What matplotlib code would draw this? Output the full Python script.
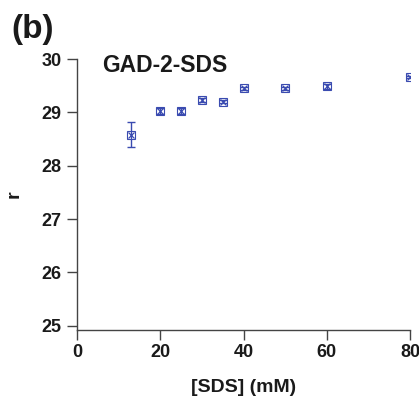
import matplotlib
matplotlib.use("Agg")
import matplotlib.pyplot as plt

sds_mM = [13, 20, 25, 30, 35, 40, 50, 60, 80]
r_values = [28.58, 29.03, 29.03, 29.23, 29.20, 29.45, 29.45, 29.49, 29.66]
r_err = [0.23, 0.06, 0.06, 0.03, 0.03, 0.03, 0.03, 0.05, 0.02]
x_ticks = [0, 20, 40, 60, 80]
y_ticks = [25, 26, 27, 28, 29, 30]

plt.rcParams['font.family'] = ['Liberation Sans', 'DejaVu Sans']
plt.rcParams['font.weight'] = 'bold'

fig = plt.figure(figsize=(4.19, 4.04), dpi=100)
ax = fig.add_axes([77/419, 1-330/404, 333/419, 271/404])

color = '#3a4bb0'
ax.errorbar(sds_mM, r_values, yerr=r_err, fmt='none', ecolor=color, elinewidth=1.0,
            capsize=3, capthick=1.0, zorder=3)
ax.plot(sds_mM, r_values, linestyle='none', marker='s', markersize=5.5,
        markerfacecolor='none', markeredgecolor=color, markeredgewidth=0.8, zorder=4)
ax.plot(sds_mM, r_values, linestyle='none', marker='x', markersize=5,
        markeredgecolor=color, markeredgewidth=0.9, zorder=4)

ax.set_xlim(0, 80)
ax.set_ylim(24.92, 30)
ax.set_xticks(x_ticks)
ax.set_yticks(y_ticks)
ax.spines['top'].set_visible(False)
ax.spines['right'].set_visible(False)
for s in ['left', 'bottom']:
    ax.spines[s].set_color('#444444')
    ax.spines[s].set_linewidth(1.0)
ax.spines['left'].set_bounds(24.92, 30)
ax.tick_params(axis='both', direction='out', length=7, width=1.0, color='#444444',
               labelsize=13, pad=4)
ax.tick_params(axis='x', pad=3)
for lab in ax.get_xticklabels() + ax.get_yticklabels():
    lab.set_fontweight('bold')
    lab.set_color('#1a1a1a')

ax.set_xlabel('[SDS] (mM)', fontsize=14, fontweight='bold', labelpad=13, color='#1a1a1a')
ax.set_ylabel('r', fontsize=14, fontweight='bold', labelpad=14, color='#1a1a1a')

ax.text(0.075, 0.952, 'GAD-2-SDS', transform=ax.transAxes, fontsize=16.5,
        fontweight='bold', va='baseline', ha='left', color='#1a1a1a')
fig.text(11/419, 1-38/404, '(b)', fontsize=24, fontweight='bold', va='baseline',
         ha='left', color='#1a1a1a')

fig.savefig('out.png', dpi=100)
